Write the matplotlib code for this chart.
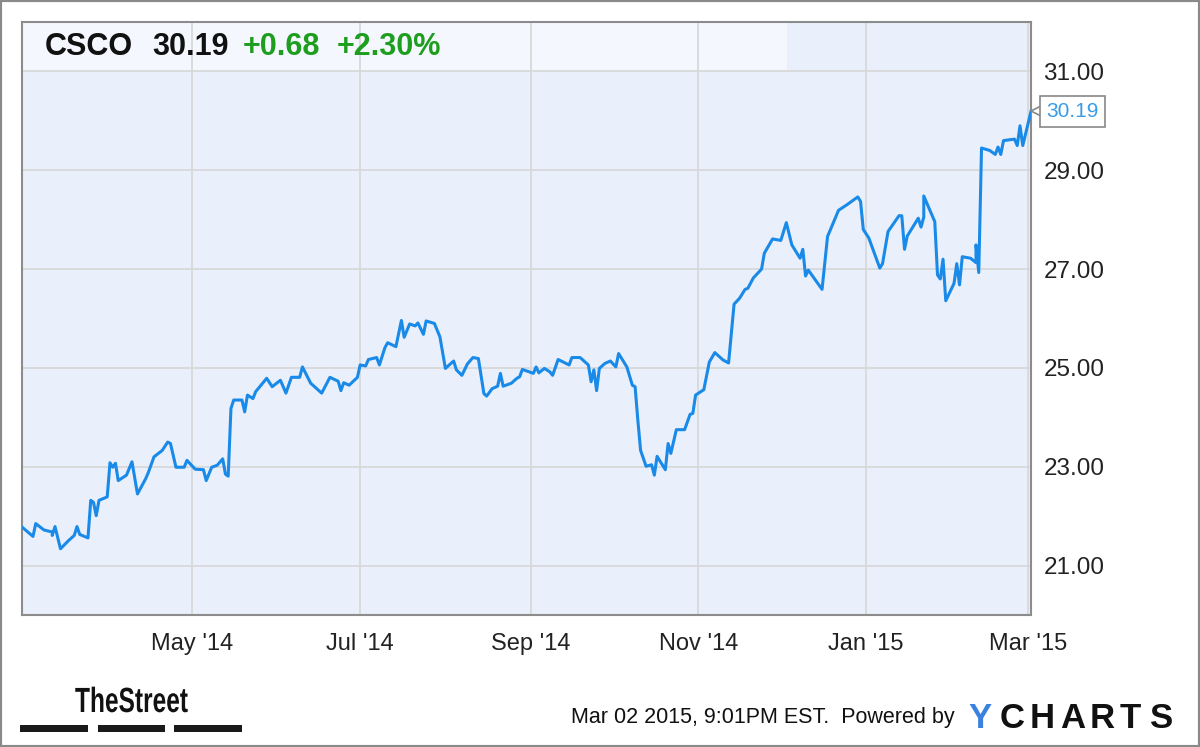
import numpy as np
import matplotlib
matplotlib.use("Agg")
import matplotlib.pyplot as plt
import matplotlib.dates as mdates
from matplotlib.patches import Rectangle, PathPatch
from matplotlib.textpath import TextPath
from matplotlib.font_manager import FontProperties
import matplotlib.transforms as mtransforms

# CSCO closing prices (days counted from 2014-02-28)
start_date = np.datetime64("2014-02-28")
day_offset = [0, 4, 5, 8, 11, 11, 12, 14, 17, 19, 20, 21, 24, 25, 26, 27, 28, 31, 32, 33,
              34, 35, 38, 40, 42, 45, 46, 48, 51, 53, 54, 56, 59, 60, 63, 66, 67, 69, 71, 73,
              74, 75, 76, 77, 80, 81, 82, 84, 85, 89, 91, 94, 96, 98, 101, 102, 105, 109, 112, 115,
              116, 117, 119, 122, 123, 125, 126, 129, 130, 132, 133, 136, 138, 139, 141, 143, 144, 146, 147, 150,
              152, 154, 157, 158, 160, 162, 164, 166, 168, 169, 171, 173, 174, 175, 178, 180, 181, 182, 186, 187,
              188, 190, 192, 193, 195, 199, 200, 203, 206, 207, 208, 209, 210, 212, 214, 216, 217, 220, 222, 223,
              224, 225, 227, 229, 230, 231, 234, 235, 236, 238, 241, 243, 244, 245, 248, 250, 252, 255, 257, 259,
              261, 263, 264, 266, 269, 270, 273, 276, 278, 280, 283, 284, 285, 286, 291, 293, 297, 300, 304, 305,
              306, 308, 312, 313, 315, 319, 320, 321, 322, 326, 327, 328, 328, 330, 332, 333, 334, 335, 336, 339,
              340, 341, 342, 345, 347, 347, 348, 349, 352, 354, 355, 356, 357, 361, 362, 363, 364, 367]
price = [21.78, 21.59, 21.85, 21.72, 21.68, 21.61, 21.79, 21.34, 21.51, 21.61, 21.79, 21.63, 21.56, 22.32, 22.28, 22.01, 22.32, 22.39, 23.08, 22.99,
         23.07, 22.72, 22.83, 23.10, 22.45, 22.76, 22.89, 23.20, 23.33, 23.50, 23.47, 22.99, 22.99, 23.13, 22.95, 22.94, 22.72, 22.99, 23.03, 23.16,
         22.85, 22.81, 24.18, 24.35, 24.35, 24.11, 24.45, 24.38, 24.52, 24.79, 24.62, 24.75, 24.49, 24.81, 24.81, 25.02, 24.69, 24.49, 24.81, 24.73,
         24.54, 24.70, 24.65, 24.81, 25.06, 25.04, 25.17, 25.21, 25.06, 25.41, 25.51, 25.43, 25.96, 25.62, 25.89, 25.85, 25.91, 25.68, 25.95, 25.90,
         25.63, 24.99, 25.14, 24.96, 24.85, 25.08, 25.21, 25.19, 24.48, 24.43, 24.58, 24.63, 24.89, 24.63, 24.69, 24.79, 24.82, 24.97, 24.89, 25.02,
         24.90, 24.99, 24.92, 24.85, 25.17, 25.06, 25.21, 25.21, 25.06, 24.72, 24.96, 24.54, 24.99, 25.09, 25.14, 25.02, 25.29, 25.02, 24.65, 24.62,
         23.94, 23.33, 23.01, 23.04, 22.83, 23.21, 22.94, 23.47, 23.27, 23.75, 23.75, 24.06, 24.08, 24.45, 24.56, 25.12, 25.31, 25.16, 25.10, 26.29,
         26.41, 26.59, 26.61, 26.82, 27.00, 27.32, 27.61, 27.58, 27.94, 27.49, 27.22, 27.40, 26.86, 26.98, 26.59, 27.66, 28.19, 28.30, 28.46, 28.37,
         27.80, 27.63, 27.02, 27.11, 27.76, 28.08, 28.08, 27.40, 27.67, 28.03, 27.85, 28.05, 28.48, 28.22, 27.96, 26.88, 26.80, 27.20, 26.36, 26.71,
         27.11, 26.68, 27.25, 27.22, 27.13, 27.49, 26.93, 29.45, 29.40, 29.32, 29.47, 29.32, 29.60, 29.63, 29.50, 29.90, 29.50, 30.19]

tick_dates = ["2014-05-01", "2014-07-01", "2014-09-01", "2014-11-01", "2015-01-01", "2015-03-01"]
tick_labels = ["May '14", "Jul '14", "Sep '14", "Nov '14", "Jan '15", "Mar '15"]
y_ticks = [21, 23, 25, 27, 29, 31]

ticker = "CSCO"
change = 0.68
change_pct = 2.30

W, H = 1200, 747
plt.rcParams["font.family"] = ["Liberation Sans", "DejaVu Sans"]
fig = plt.figure(figsize=(W / 100, H / 100), dpi=100)

# plot area in pixels: x 22..1031, y 22..615
ax = fig.add_axes([22 / W, 1 - 615 / H, (1031 - 22) / W, (615 - 22) / H])
ax.set_facecolor("#eaf0fb")

dates = start_date + np.array(day_offset).astype("timedelta64[D]")
ax.plot(dates.astype("datetime64[ms]").astype(object), price, color="#1a8ae8", lw=2.2, zorder=3)

ax.set_xlim(mdates.date2num(np.datetime64("2014-02-28")), mdates.date2num(np.datetime64("2015-03-02")))
ax.set_ylim(20, 32)

ax.set_xticks([mdates.date2num(np.datetime64(d)) for d in tick_dates])
ax.set_xticklabels(tick_labels)
ax.set_yticks(y_ticks)
ax.set_yticklabels(["%.2f" % v for v in y_ticks])
ax.yaxis.tick_right()
ax.tick_params(axis="x", length=0, pad=13, labelsize=17, labelcolor="#222222")
ax.tick_params(axis="y", length=0, pad=9, labelsize=17.5, labelcolor="#222222")
ax.grid(True, color="#d8d8d8", lw=1.3, zorder=1)
ax.set_axisbelow(True)
for s in ax.spines.values():
    s.set_color("#8c8c8c")
    s.set_linewidth(1.5)

# header band
ax.add_patch(Rectangle((0, (31 - 20) / 12), (787 - 22) / (1031 - 22), 1 / 12, transform=ax.transAxes,
                       fc="#f4f7fe", ec="none", zorder=0.5))
last = price[-1]
hdr_y = 1 - 47 / H
fig.text(45 / W, hdr_y, ticker, fontsize=22, fontweight="bold", color="#111111", va="center")
fig.text(152 / W, hdr_y, "%.2f" % last, fontsize=22, fontweight="bold", color="#111111", va="center")
fig.text(243 / W, hdr_y, "+%.2f" % change, fontsize=22, fontweight="bold", color="#1e9e1e", va="center")
fig.text(337 / W, hdr_y, "+%.2f%%" % change_pct, fontsize=22, fontweight="bold", color="#1e9e1e", va="center")

# last price callout
trans = mtransforms.blended_transform_factory(ax.transAxes, ax.transData)
tri_trans = mtransforms.offset_copy(trans, fig=fig, x=6, y=0, units="points")
ax.plot([1], [last], marker="<", ms=12, mfc="white", mec="#888888", mew=1.2,
        transform=tri_trans, clip_on=False, zorder=5)
ax.annotate("%.2f" % last, xy=(1, last), xycoords=trans, xytext=(11, 0), textcoords="offset points",
            ha="left", va="center", fontsize=15, color="#3a9be8", zorder=6, annotation_clip=False,
            bbox=dict(boxstyle="square,pad=0.3", fc="white", ec="#888888", lw=1.2))

# footer: TheStreet logo (condensed bold)
tp = TextPath((0, 0), "TheStreet", size=1, prop=FontProperties(family="Liberation Sans", weight="bold"))
logo_tf = mtransforms.Affine2D().scale(24.5, 35).translate(75, H - 712)
fig.add_artist(PathPatch(tp, transform=logo_tf, fc="#111111", ec="none"))
for x0, x1 in [(20, 88), (98, 165), (174, 242)]:
    fig.add_artist(Rectangle((x0 / W, 1 - 732 / H), (x1 - x0) / W, 7 / H, transform=fig.transFigure,
                             fc="#1a1a1a", ec="none"))

fig.text(955 / W, 1 - 718 / H, "Mar 02 2015, 9:01PM EST.  Powered by", fontsize=15.5,
         color="#111111", ha="right", va="center")
fig.text(968 / W, 1 - 718 / H, "Y", fontsize=25, fontweight="bold", color="#3b82e0", va="center")
for i, ch in enumerate("CHARTS"):
    fig.text((1000 + i * 30) / W, 1 - 718 / H, ch, fontsize=25, fontweight="bold", color="#111111", va="center")

# outer frame
fig.add_artist(Rectangle((0, 0), 1, 1, transform=fig.transFigure, fill=False, ec="#8a8a8a", lw=3))

fig.savefig("out.png", dpi=100, facecolor="white")
